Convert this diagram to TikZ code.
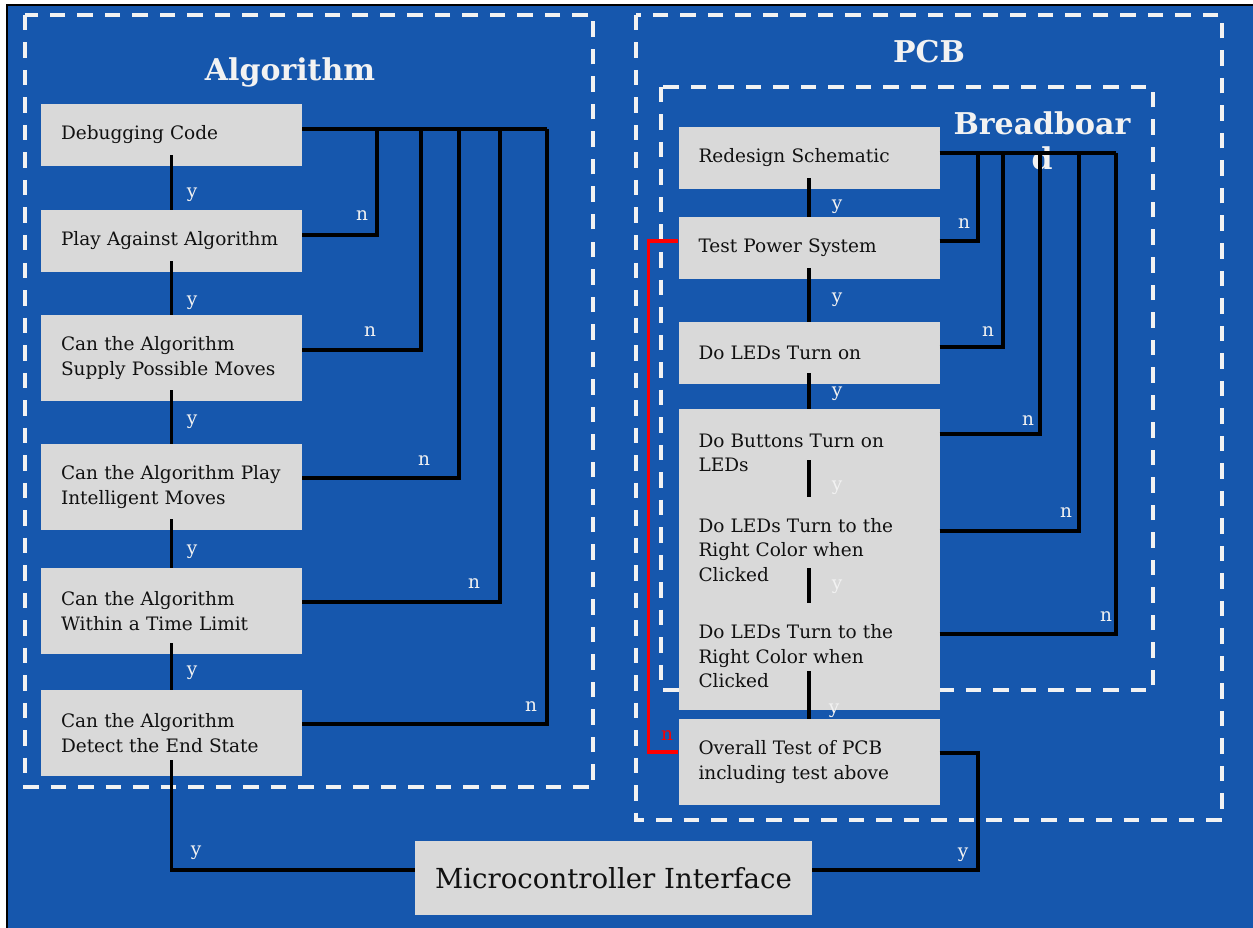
\documentclass[tikz,border=0pt]{standalone}
\usepackage{fontspec}
\setmainfont{DejaVu Serif}
\usetikzlibrary{calc}
\definecolor{bg}{HTML}{1657AD}
\definecolor{boxg}{HTML}{D9D9D9}
\definecolor{ttl}{HTML}{F2F2F2}
\definecolor{txt}{HTML}{111111}
\definecolor{redl}{HTML}{FF0000}
\begin{document}
\begin{tikzpicture}[x=1pt,y=-1pt,
  dashbox/.style={draw=ttl, line width=3.5pt, dash pattern=on 15.5pt off 12pt},
  box/.style={fill=boxg, text=txt, text width=221pt, align=left, inner xsep=20pt, inner ysep=0pt, minimum height=62pt, font=\fontsize{18.5}{24.5}\selectfont},
  conn/.style={draw=black, line width=3.5pt},
  redconn/.style={draw=redl, line width=3.5pt},
  lab/.style={text=ttl, font=\fontsize{18.5}{20}\selectfont, inner sep=0pt},
  title/.style={text=ttl, font=\bfseries\fontsize{30}{35}\selectfont, align=center, inner sep=0pt}]
\useasboundingbox (0,0) rectangle (1253,928);
\begin{scope}
  \clip (0,0) rectangle (1253,928);
  \fill[bg] (7,5) rectangle (1270,940);
  \draw[black, line width=2pt] (7,950) -- (7,5) -- (1270,5);
\end{scope}
% group frames
\draw[dashbox] (25,15) rectangle (593,787);
\draw[dashbox] (636,15) rectangle (1222,820);
\draw[dashbox] (661,87) rectangle (1153,690);
% titles
\node[title] (tA) at (290,72) {Algorithm};
\node[title] (tP) at (929,52) {PCB};
\node[title] (tB) at (1042,141) {Breadboar\\d};
% left column
\node[box] (dbg) at (171.5,135) {Debugging Code};
\node[box] (play) at (171.5,241) {Play Against Algorithm};
\node[box, minimum height=86pt] (sup) at (171.5,358) {Can the Algorithm\\Supply Possible Moves};
\node[box, minimum height=86pt] (int) at (171.5,487) {Can the Algorithm Play\\Intelligent Moves};
\node[box, minimum height=86pt] (time) at (171.5,611) {Can the Algorithm\\Within a Time Limit};
\node[box, minimum height=86pt] (det) at (171.5,733) {Can the Algorithm\\Detect the End State};
% right column
\node[box] (red) at (809,158) {Redesign Schematic};
\node[box] (tps) at (809,248) {Test Power System};
\node[box] (led) at (809,353) {Do LEDs Turn on};
\node[box, minimum height=88pt] (btn) at (809,453) {Do Buttons Turn on\\LEDs};
\node[box, minimum height=106pt] (c1) at (809,550) {Do LEDs Turn to the\\Right Color when\\Clicked};
\node[box, minimum height=107pt] (c2) at (809,656.5) {Do LEDs Turn to the\\Right Color when\\Clicked};
\node[box, minimum height=86pt] (ov) at (809,762) {Overall Test of PCB\\including test above};
% microcontroller
\node[fill=boxg, text=txt, minimum width=397pt, minimum height=74pt, inner sep=0pt, font=\fontsize{27.6}{32}\selectfont] (mc) at (613.5,878) {Microcontroller Interface};
% bus coordinates
\coordinate (L1) at (377,129);
\coordinate (L2) at (421,129);
\coordinate (L3) at (459,129);
\coordinate (L4) at (500,129);
\coordinate (L5) at (547,129);
\coordinate (R1) at (978,153);
\coordinate (R2) at (1003,153);
\coordinate (R3) at (1040,153);
\coordinate (R4) at (1079,153);
\coordinate (R5) at (1116,153);
\coordinate (RB) at (978,870);
% left yes chain
\draw[conn] ([yshift=11pt]dbg.south) -- (play.north);
\draw[conn] ([yshift=11pt]play.south) -- (sup.north);
\draw[conn] ([yshift=11pt]sup.south) -- (int.north);
\draw[conn] ([yshift=11pt]int.south) -- (time.north);
\draw[conn] ([yshift=11pt]time.south) -- (det.north);
\draw[conn] ([yshift=16pt]det.south) |- ([yshift=8pt]mc.west);
% left no bus
\draw[conn] ([yshift=6pt]dbg.east) -- (L5);
\draw[conn] ([yshift=6pt]play.east) -| (L1);
\draw[conn] ([yshift=8pt]sup.east) -| (L2);
\draw[conn] ([yshift=9pt]int.east) -| (L3);
\draw[conn] ([yshift=9pt]time.east) -| (L4);
\draw[conn] ([yshift=9pt]det.east) -| (L5);
% right yes chain
\draw[conn] ([yshift=11pt]red.south) -- (tps.north);
\draw[conn] ([yshift=11pt]tps.south) -- (led.north);
\draw[conn] ([yshift=11pt]led.south) -- (btn.north);
\draw[conn] ([yshift=37pt]btn.south) -- (c1.north);
\draw[conn] ([yshift=35pt]c1.south) -- (c2.north);
\draw[conn] ([yshift=39pt]c2.south) -- (ov.north);
\draw[conn] ([yshift=9pt]ov.east) -| (RB) -- ([yshift=8pt]mc.east);
% right no bus
\draw[conn] ([yshift=5pt]red.east) -- (R5);
\draw[conn] ([yshift=7pt]tps.east) -| (R1);
\draw[conn] ([yshift=6pt]led.east) -| (R2);
\draw[conn] ([yshift=19pt]btn.east) -| (R3);
\draw[conn] ([yshift=19pt]c1.east) -| (R4);
\draw[conn] ([yshift=22.5pt]c2.east) -| (R5);
% red no
\draw[redconn] ([yshift=7pt]tps.west) -- ++(-30,0) |- ([yshift=10pt]ov.west);
% labels
\foreach \p in {(192,195),(192,303),(192,422),(192,552),(192,673),(196,853),
  (837,207),(837,300),(837,394),(837,488),(837,587),(834,711),(963,855)}
  \node[lab] at \p {y};
\foreach \p in {(362,216),(370,332),(424,461),(474,584),(531,707),
  (964,224),(988,332),(1028,421),(1066,513),(1106,617)}
  \node[lab] at \p {n};
\node[lab, text=redl] at (667,736) {n};
\end{tikzpicture}
\end{document}
